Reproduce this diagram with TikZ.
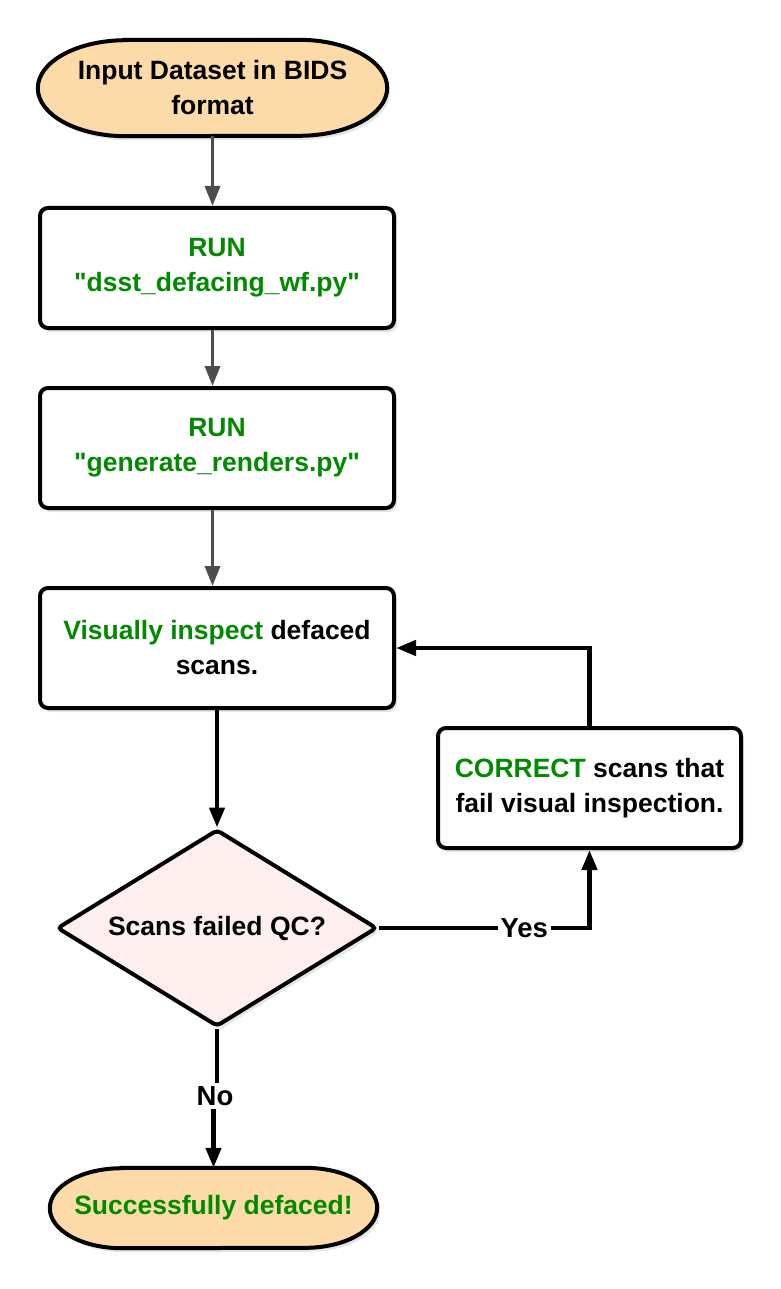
\documentclass[tikz,border=0pt]{standalone}
\usepackage{fontspec}
\setmainfont{Liberation Sans}[Ligatures=TeXOff]
\usetikzlibrary{arrows.meta,shapes.geometric,shadows}
\definecolor{termfill}{RGB}{252,219,168}
\definecolor{decfill}{RGB}{253,239,238}
\definecolor{okgreen}{RGB}{0,138,0}
\definecolor{arrgray}{RGB}{77,77,77}
\pgfdeclarelayer{background}
\pgfdeclarelayer{canvas}
\pgfsetlayers{canvas,background,main}
\begin{document}
\begin{tikzpicture}[x=1pt,y=-1pt,
  txt/.style={font=\bfseries\fontsize{26.5}{35}\selectfont, align=center, inner sep=0pt},
  shade/.style={drop shadow={shadow xshift=3pt, shadow yshift=-4pt, opacity=0.10, fill=black}},
  termline/.style={draw=black, line width=4pt, fill=termfill, shade},
  procbox/.style={txt, draw=black, line width=4pt, fill=white, rounded corners=8pt,
    minimum width=354pt, minimum height=120pt, shade},
  decbox/.style={txt, diamond, aspect=1.6, draw=black, line width=4pt, fill=decfill,
    rounded corners=4pt, minimum width=320pt, minimum height=197pt, shade},
  garr/.style={draw=arrgray, line width=3.5pt, -{Triangle[length=20pt,width=15pt]}},
  barr/.style={draw=black, line width=4.5pt, -{Triangle[length=20pt,width=15pt]}},
  bline/.style={draw=black, line width=4.5pt},
  lab/.style={font=\bfseries\fontsize{27.5}{30}\selectfont, fill=white, inner sep=3pt}
]
\useasboundingbox (0,0) rectangle (780,1289);
\begin{pgfonlayer}{canvas}
\fill[white] (0,0) rectangle (780,1289);
\end{pgfonlayer}

% terminators (text nodes; outlines drawn on background)
\node[txt, minimum width=349pt, minimum height=96pt] (t1) at (212.5,88) {Input Dataset in BIDS\\format};
\node[txt, minimum width=327pt, minimum height=80pt, text=okgreen] (t2) at (213.5,1208) {Successfully defaced!};

\begin{pgfonlayer}{background}
\draw[termline] ([xshift=88pt]t1.north west) -- ([xshift=-88pt]t1.north east)
  arc[start angle=90, end angle=-90, x radius=88pt, y radius=48pt]
  -- ([xshift=88pt]t1.south west)
  arc[start angle=270, end angle=90, x radius=88pt, y radius=48pt] -- cycle;
\draw[termline] ([xshift=72pt]t2.north west) -- ([xshift=-72pt]t2.north east)
  arc[start angle=90, end angle=-90, x radius=72pt, y radius=40pt]
  -- ([xshift=72pt]t2.south west)
  arc[start angle=270, end angle=90, x radius=72pt, y radius=40pt] -- cycle;
\end{pgfonlayer}

% process boxes
\node[procbox, text=okgreen] (b1) at (217,268) {RUN\\"dsst\_defacing\_wf.py"};
\node[procbox, text=okgreen] (b2) at (217,448) {RUN\\"generate\_renders.py"};
\node[procbox] (b3) at (217,648) {{\color{okgreen}Visually inspect} defaced\\scans.};
\node[procbox, minimum width=303pt] (b4) at (589.5,788) {{\color{okgreen}CORRECT} scans that\\fail visual inspection.};

% decision
\node[decbox] (d) at (217,928) {Scans failed QC?};

% connectors
\draw[garr] (t1.south) -- (t1.south |- b1.north);
\draw[garr] (b1.south -| t1.south) -- (t1.south |- b2.north);
\draw[garr] (b2.south -| t1.south) -- (t1.south |- b3.north);
\draw[barr] (b3.south) -- (d.north);
\draw[barr] (d.east) -- node[lab, pos=0.69] {Yes} (d.east -| b4.south) -- (b4.south);
\draw[barr] (b4.north) -- (b4.north |- b3.east) -- (b3.east);

\node[lab] (no) at (215,1096) {No};
\draw[bline] (d.south) -- (d.south |- no.north);
\draw[barr] (t2.north |- no.south) -- (t2.north);
\end{tikzpicture}
\end{document}
